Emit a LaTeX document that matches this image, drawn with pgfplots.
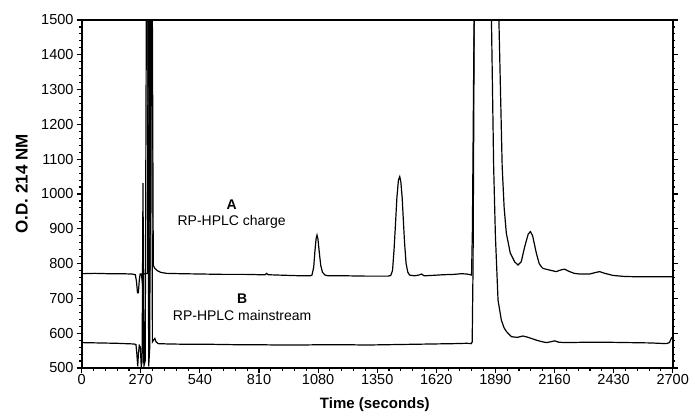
\documentclass[border=0pt]{standalone}
\usepackage{fontspec}
\setmainfont{Liberation Sans}
\usepackage{pgfplots}
\pgfplotsset{compat=1.18}

\begin{document}
\begin{tikzpicture}
\useasboundingbox (0,0) rectangle (694pt,418pt);
\begin{axis}[
    at={(81.7pt,50pt)}, anchor=south west,
    scale only axis, width=591pt, height=348pt,
    xmin=0, xmax=2700, ymin=500, ymax=1500,
    xtick={0,270,...,2700}, ytick={500,600,...,1500},
    minor x tick num=4, minor y tick num=4,
    xtick pos=bottom, ytick pos=both, yticklabel pos=left,
    tick align=outside,
    major tick length=5pt, minor tick length=2.5pt,
    every tick/.style={black, line width=1.1pt},
    axis line style={line width=1.8pt},
    scaled ticks=false,
    /pgf/number format/1000 sep={},
    /pgf/number format/assume math mode=true,
    tick label style={font=\fontsize{14.5}{16}\selectfont},
    xticklabel style={inner sep=1.5pt},
    yticklabel style={inner sep=3pt},
    xlabel={\bfseries Time (seconds)},
    ylabel={\bfseries O.D. 214 NM},
    every axis x label/.style={at={(axis description cs:0.496,-0.106)}, anchor=center, font=\fontsize{15}{17}\selectfont},
    every axis y label/.style={at={(axis description cs:-0.1015,0.529)}, anchor=center, rotate=90, font=\fontsize{17}{19}\selectfont},
    clip=true,
]
% trace A: RP-HPLC charge
\addplot[black, line width=1.2pt, mark=none] coordinates {
(0,771)(60,772)(120,771)(180,771)(230,770)(245,768)(250,750)(255,716)(259,716)(263,752)(267,770)
(273,770)(277,745)(281,770)(300,772)(304,1650)(308,1650)(312,780)(318,1650)(322,1650)(327,795)
(334,786)(345,780)(360,775)(387,772)(450,771)(550,770)(650,769)(750,769)(820,768)(838,768)
(845,772)(852,768)(900,767)(1000,765)(1045,765)(1052,767)(1060,790)(1066,840)(1071,872)(1075,882)
(1079,872)(1085,835)(1092,795)(1100,775)(1112,767)(1125,765)(1200,765)(1300,764)(1400,764)
(1412,766)(1420,780)(1427,840)(1433,907)(1440,990)(1447,1040)(1453,1050)(1458,1035)(1464,990)
(1469,930)(1475,860)(1482,800)(1490,775)(1498,767)(1520,765)(1540,767)(1552,770)(1565,765)
(1600,766)(1650,768)(1700,769)(1735,771)(1760,770)(1775,768)(1781,767)(1785,900)(1790,1300)
(1795,1650)(1900,1650)(1906,1500)(1921,1078)(1930,960)(1940,887)(1958,830)(1978,805)(1993,796)
(2008,805)(2024,849)(2040,885)(2050,892)(2060,880)(2077,830)(2090,800)(2100,791)(2108,786)
(2140,781)(2168,777)(2190,782)(2206,784)(2225,778)(2250,772)(2275,770)(2320,770)(2345,774)
(2366,777)(2390,772)(2427,766)(2480,763)(2549,762)(2620,762)(2700,762)
};
% trace B: RP-HPLC mainstream
\addplot[black, line width=1.2pt, mark=none] coordinates {
(0,573)(80,572)(160,571)(240,569)(248,567)(252,540)(256,505)(259,540)(263,565)(268,560)(272,505)
(276,520)(280,1031)(284,505)(290,520)(296,1650)(302,1650)(306,505)(311,560)(315,1650)(319,1650)
(323,575)(328,580)(334,585)(340,575)(350,570)(400,569)(500,568)(600,568)(700,567)(800,567)
(900,566)(1000,566)(1100,567)(1200,567)(1300,566)(1400,567)(1500,568)(1600,569)(1700,570)
(1760,571)(1780,570)(1784,575)(1788,800)(1791,1200)(1794,1650)(1865,1650)(1872,1500)(1882,1078)
(1890,880)(1902,695)(1917,638)(1930,615)(1940,605)(1963,590)(1990,588)(2016,592)(2040,588)
(2077,580)(2100,576)(2123,573)(2140,575)(2161,578)(2180,574)(2214,573)(2300,574)(2400,574)
(2500,573)(2600,572)(2671,570)(2685,573)(2694,586)(2700,590)
};
\node[font=\fontsize{14}{15}\selectfont\bfseries] at (axis cs:685,968) {A};
\node[font=\fontsize{14}{15}\selectfont] at (axis cs:685,920) {RP-HPLC charge};
\node[font=\fontsize{14}{15}\selectfont\bfseries] at (axis cs:733,698) {B};
\node[font=\fontsize{14}{15}\selectfont] at (axis cs:733,650) {RP-HPLC mainstream};
\end{axis}
\end{tikzpicture}
\end{document}
